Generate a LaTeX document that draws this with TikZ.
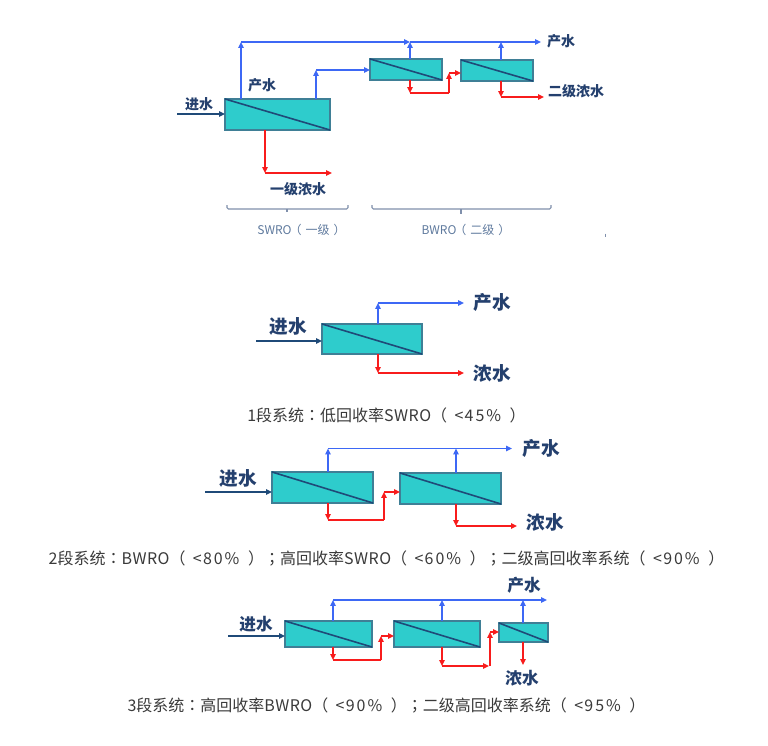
\documentclass[tikz,border=0pt]{standalone}
\usepackage{fontspec}
\setmainfont{Noto Sans CJK SC}
\newfontfamily\tcpunct{Noto Sans CJK TC}
\usetikzlibrary{arrows.meta}
\definecolor{tealbox}{HTML}{2ECCCC}
\definecolor{boxedge}{HTML}{3F7F96}
\definecolor{navy}{HTML}{1F4A78}
\definecolor{labelc}{HTML}{24406E}
\definecolor{bluef}{HTML}{3D68F5}
\definecolor{redf}{HTML}{F81C1C}
\definecolor{bracketc}{HTML}{8090AC}
\definecolor{bracktext}{HTML}{5F7A9E}
\definecolor{capt}{HTML}{3A3A3A}
\tikzset{
  module/.style={draw=boxedge,fill=tealbox,line width=0.9pt,inner sep=0pt,outer sep=0pt},
  membrane/.style={draw=navy,line width=1.2pt},
  tipped/.style={-{Triangle[length=4.4pt,width=4pt]}},
  feed/.style={tipped,draw=navy,line width=1.1pt},
  product/.style={tipped,draw=bluef,line width=1.35pt},
  brine/.style={tipped,draw=redf,line width=1.45pt},
  plainbrine/.style={draw=redf,line width=1.45pt},
  lab/.style={text=labelc,font=\bfseries\fontsize{#1}{#1}\selectfont,inner sep=0pt},
  caption/.style={text=capt,font=\fontsize{12}{12}\selectfont,inner sep=0pt},
  bracketlabel/.style={text=bracktext,font=\fontsize{9}{9}\selectfont,inner sep=0pt},
  bracket/.style={draw=bracketc,line width=0.8pt,rounded corners=1pt},
}
\newcommand{\modbox}[5]{%
  \node[module,minimum width={((#4)-(#2))*0.75pt},minimum height={((#5)-(#3))*0.75pt}] (#1) at ({((#2)+(#4))/2},{((#3)+(#5))/2}) {};
  \draw[membrane] (#1.north west) -- (#1.south east);
}
% caption pieces: centred colon and semicolon, spaced "( < n% )"
\newcommand{\capcolon}{{\tcpunct ：}}
\newcommand{\capsemi}{{\tcpunct ；}}
\newcommand{\caplimit}[1]{（\kern5.5pt<\kern1pt{\addfontfeatures{LetterSpace=12}#1\%}\kern6.5pt）}
\newcommand{\capword}[1]{{\addfontfeatures{LetterSpace=3}#1}}
\begin{document}
\begin{tikzpicture}[x=0.75pt,y=-0.75pt]
\useasboundingbox[fill=white] (0,0) rectangle (768,746);

% ---------- top diagram ----------
\modbox{A}{225}{99}{330}{130}
\modbox{B}{370}{59}{442}{80}
\modbox{C}{461}{60}{533}{81}
\coordinate (af) at (177,114);
\draw[feed] (af) -- (af -| A.west);
\coordinate (a1) at (241,42);
\coordinate (a2) at (410,42);
\coordinate (a3) at (501,42);
\coordinate (a4) at (541,42);
\draw[product] (A.north -| a1) -- (a1);
\draw[product] (a1) -- (a2);
\draw[product] (a2) -- (a4);
\draw[product] (B.north -| a2) -- (a2);
\draw[product] (C.north -| a3) -- (a3);
\coordinate (a5) at (316,70);
\draw[product] (A.north -| a5) -- (a5);
\draw[product,line width=1pt] (a5) -- (a5 -| B.west);
\coordinate (a6) at (265,173);
\coordinate (a7) at (332,173);
\draw[brine] (A.south -| a6) -- (a6);
\draw[brine] (a6) -- (a7);
\coordinate (a8) at (410,93);
\coordinate (a9) at (449,93);
\coordinate (a10) at (449,73);
\draw[brine] (B.south -| a8) -- (a8);
\draw[plainbrine] (a8) -- (a9);
\draw[brine] (a9) -- (a10);
\draw[brine] (a10) -- (a10 -| C.west);
\coordinate (a11) at (501,97);
\coordinate (a12) at (544,97);
\draw[brine] (C.south -| a11) -- (a11);
\draw[brine] (a11) -- (a12);
\node[lab=10.5] (l1) at (199,104) {进水};
\node[lab=10.5] (l2) at (262,85) {产水};
\node[lab=10.5] (l3) at (298,189) {一级浓水};
\node[lab=10.5] (l4) at (561,41) {产水};
\node[lab=10.5] (l5) at (576,91) {二级浓水};
\coordinate (b1) at (227,205);
\coordinate (b2) at (348,205);
\coordinate (b3) at (372,205);
\coordinate (b4) at (551,205);
\draw[bracket] (b1) -- ++(0,4) -- (b2 |- 0,209) -- (b2);
\draw[bracket] (287,209) -- (287,212);
\draw[bracket] (b3) -- ++(0,4) -- (b4 |- 0,209) -- (b4);
\draw[bracket] (461,209) -- (461,214);
\node[bracketlabel] (s1) at (301.5,230) {SWRO\kern-1.5pt（\kern3pt一级\kern3pt）};
\node[bracketlabel] (s2) at (466,230) {BWRO\kern-1.5pt（\kern3pt二级\kern3pt）};
\coordinate (m1) at (605,233.5);
\coordinate (m2) at (605,236.5);
\draw[draw=bracketc,line width=0.6pt] (m1) -- (m2);

% ---------- one stage ----------
\modbox{D}{322}{324}{422}{354}
\coordinate (df) at (256,341);
\draw[feed] (df) -- (df -| D.west);
\coordinate (d1) at (378,303);
\coordinate (d2) at (464,303);
\draw[product] (D.north -| d1) -- (d1);
\draw[product] (d1) -- (d2);
\coordinate (d3) at (378,373);
\coordinate (d4) at (464,373);
\draw[brine] (D.south -| d3) -- (d3);
\draw[brine] (d3) -- (d4);
\node[lab=14] (l6) at (288,326) {进水};
\node[lab=14] (l7) at (492,302) {产水};
\node[lab=14] (l8) at (492,373) {浓水};
\node[caption] (c1) at (386.5,415) {1段系统\capcolon 低回收率\capword{SWRO}\caplimit{45}};

% ---------- two stages ----------
\modbox{E}{272}{472}{373}{503}
\modbox{F}{400}{473}{501}{504}
\coordinate (ef) at (205,492);
\draw[feed] (ef) -- (ef -| E.west);
\coordinate (e1) at (328,448.5);
\coordinate (e2) at (456,448.5);
\coordinate (e3) at (512,448.5);
\draw[product] (E.north -| e1) -- (e1);
\draw[product] (e1) -- (e3);
\draw[product] (F.north -| e2) -- (e2);
\coordinate (e4) at (328,520);
\coordinate (e5) at (384,520);
\coordinate (e6) at (384,492);
\draw[brine] (E.south -| e4) -- (e4);
\draw[plainbrine] (e4) -- (e5);
\draw[brine] (e5) -- (e6);
\draw[brine] (e6) -- (e6 -| F.west);
\coordinate (e7) at (456,526);
\coordinate (e8) at (517,526);
\draw[brine] (F.south -| e7) -- (e7);
\draw[brine] (e7) -- (e8);
\node[lab=14] (l9) at (238,478) {进水};
\node[lab=14] (l10) at (541,448) {产水};
\node[lab=14] (l11) at (545,522) {浓水};
\node[caption] (c2) at (386.5,558) {2段系统\capcolon \capword{BWRO}\caplimit{80}\capsemi 高回收率\capword{SWRO}\caplimit{60}\capsemi 二级高回收率系统\caplimit{90}};

% ---------- three stages ----------
\modbox{G}{285}{621}{372}{647}
\modbox{H}{394}{621}{480}{647}
\modbox{I}{499}{623}{548}{642}
\coordinate (gf) at (228,636);
\draw[feed] (gf) -- (gf -| G.west);
\coordinate (g1) at (333,600);
\coordinate (g2) at (442,600);
\coordinate (g3) at (523,600);
\coordinate (g4) at (547,600);
\draw[product] (G.north -| g1) -- (g1);
\draw[product] (g1) -- (g4);
\draw[product,line width=1.1pt] (H.north -| g2) -- (g2);
\draw[product,line width=1.1pt] (I.north -| g3) -- (g3);
\coordinate (g5) at (333,660);
\coordinate (g6) at (381,660);
\coordinate (g7) at (381,636);
\draw[brine] (G.south -| g5) -- (g5);
\draw[plainbrine] (g5) -- (g6);
\draw[brine] (g6) -- (g7);
\draw[brine] (g7) -- (g7 -| H.west);
\coordinate (g8) at (442,666);
\coordinate (g9) at (489,666);
\coordinate (g10) at (490,632);
\draw[brine] (H.south -| g8) -- (g8);
\draw[brine] (g8) -- (g9);
\draw[brine] (g9 -| g10) -- (g10);
\draw[brine] (g10) -- (g10 -| I.west);
\coordinate (g11) at (523,665);
\draw[brine] (I.south -| g11) -- (g11);
\node[lab=12.5] (l12) at (256,624) {进水};
\node[lab=12.5] (l13) at (524,585) {产水};
\node[lab=12.5] (l14) at (522,678) {浓水};
\node[caption] (c3) at (386.5,705) {3段系统\capcolon 高回收率\capword{BWRO}\caplimit{90}\capsemi 二级高回收率系统\caplimit{95}};
\end{tikzpicture}
\end{document}
